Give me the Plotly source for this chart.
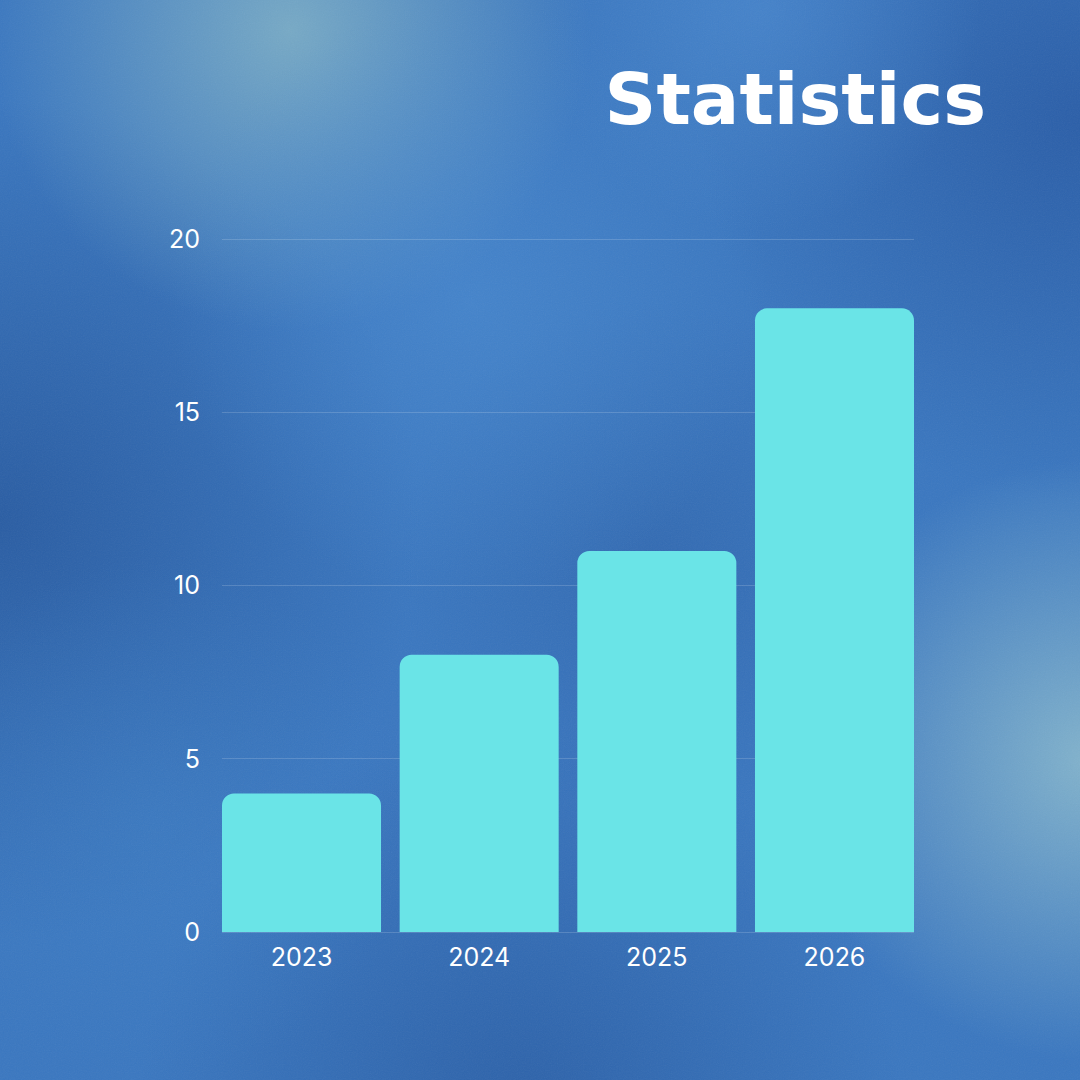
import base64
import plotly.graph_objects as go

# ---- data ----
years = ["2023", "2024", "2025", "2026"]
values = [4, 8, 11, 18]
y_ticks = [0, 5, 10, 15, 20]
title_text = "Statistics"

# ---- layout geometry ----
W, H = 1080, 1080
ML, MR, MT, MB = 222, 166, 237, 148
PW, PH = W - ML - MR, H - MT - MB

# ---- background (decorative gradient) ----
blobs = [
    (0, 520, 420, "#295ca2", 0.95),
    (1080, 120, 380, "#295ca6", 0.9),
    (520, 1100, 380, "#2b5fa6", 0.85),
    (660, 560, 260, "#2e63aa", 0.6),
    (290, 30, 300, "#7aacc6", 0.95),
    (470, 300, 300, "#4c8ed4", 0.55),
    (760, 10, 220, "#4d8cd2", 0.6),
    (1090, 760, 300, "#86b6cd", 0.95),
    (150, 820, 260, "#3f80c6", 0.5),
]
defs = []
shapes_svg = []
for i, (cx, cy, r, col, op) in enumerate(blobs):
    defs.append(
        f'<radialGradient id="g{i}" cx="{cx}" cy="{cy}" r="{r}" gradientUnits="userSpaceOnUse">'
        f'<stop offset="0" stop-color="{col}" stop-opacity="{op}"/>'
        f'<stop offset="1" stop-color="{col}" stop-opacity="0"/></radialGradient>'
    )
    shapes_svg.append(f'<rect width="{W}" height="{H}" fill="url(#g{i})"/>')
svg = (
    f'<svg xmlns="http://www.w3.org/2000/svg" width="{W}" height="{H}" viewBox="0 0 {W} {H}">'
    '<defs>' + "".join(defs) +
    '<filter id="n"><feTurbulence type="fractalNoise" baseFrequency="0.85" numOctaves="2" stitchTiles="stitch"/>'
    '<feColorMatrix type="saturate" values="0"/></filter></defs>'
    f'<rect width="{W}" height="{H}" fill="#3a77c0"/>' + "".join(shapes_svg) +
    f'<rect width="{W}" height="{H}" filter="url(#n)" opacity="0.07"/>'
    '</svg>'
)
bg_uri = "data:image/svg+xml;base64," + base64.b64encode(svg.encode()).decode()

fig = go.Figure(
    go.Bar(
        x=years,
        y=values,
        marker=dict(color="#6ae4e7", line=dict(width=0)),
        hoverinfo="x+y",
    )
)

gap = 0.105
fig.update_layout(
    width=W,
    height=H,
    margin=dict(l=ML, r=MR, t=MT, b=MB, pad=0),
    paper_bgcolor="#3a77c0",
    plot_bgcolor="rgba(0,0,0,0)",
    bargap=gap,
    barcornerradius=12,
    showlegend=False,
    title=dict(
        text=title_text,
        x=986 / W,
        xanchor="right",
        xref="container",
        y=1 - 99 / H,
        yanchor="middle",
        yref="container",
        font=dict(family="DejaVu Sans", size=72, color="white", weight="bold"),
    ),
    xaxis=dict(
        type="category",
        range=[-0.5 + gap / 2, len(years) - 0.5 - gap / 2],
        showgrid=False,
        zeroline=False,
        showline=False,
        ticks="",
        ticklabelstandoff=8,
        tickfont=dict(family="Inter", size=25, color="white"),
    ),
    yaxis=dict(
        range=[0, 20.06],
        tickvals=y_ticks,
        showgrid=True,
        gridcolor="rgba(255,255,255,0.16)",
        gridwidth=1,
        zeroline=True,
        zerolinecolor="rgba(255,255,255,0.16)",
        zerolinewidth=1,
        showline=False,
        ticks="",
        ticklabelstandoff=21,
        tickfont=dict(family="Inter", size=25, color="white"),
    ),
    images=[
        dict(
            source=bg_uri,
            xref="paper",
            yref="paper",
            x=-ML / PW,
            y=(PH + MT) / PH,
            sizex=W / PW,
            sizey=H / PH,
            sizing="stretch",
            xanchor="left",
            yanchor="top",
            layer="below",
        )
    ],
)

fig.write_html(
    "out.html",
    config={"displayModeBar": False},
    post_script="document.body.style.margin='0';",
)
